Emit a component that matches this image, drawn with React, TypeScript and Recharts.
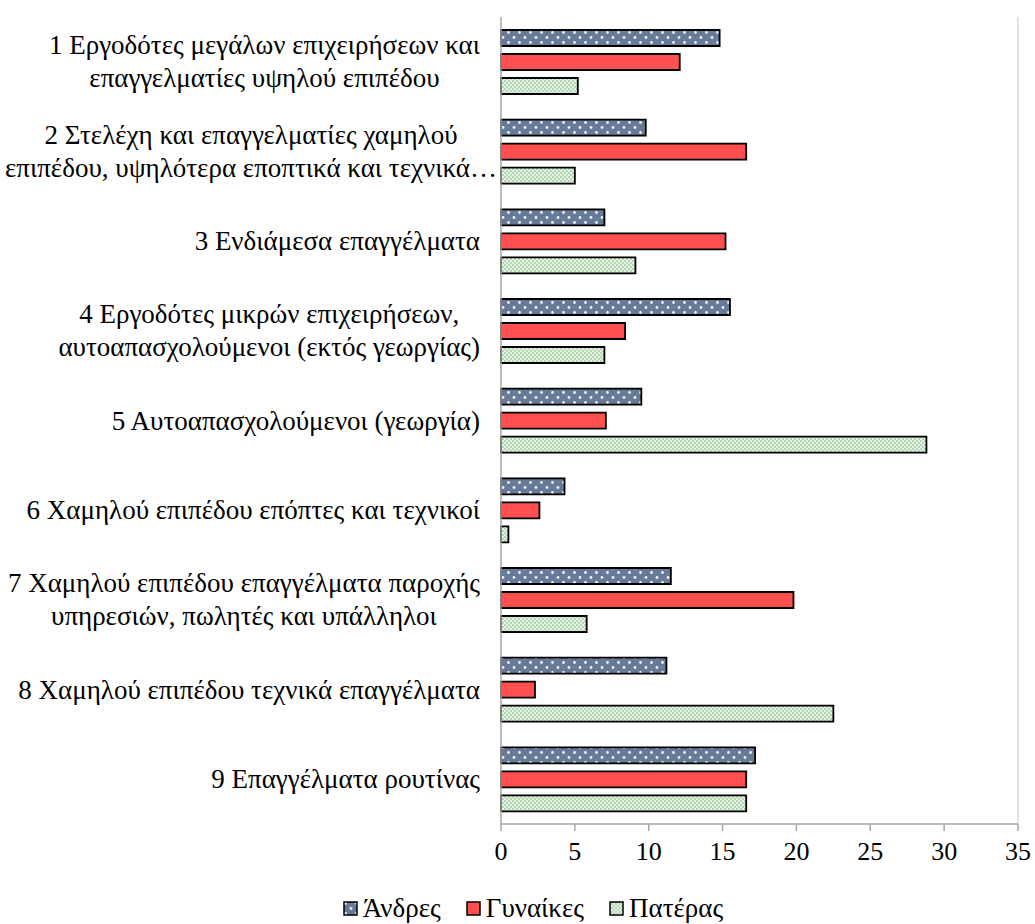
import React from "react";
import { BarChart, Bar, XAxis, YAxis, Legend, ReferenceLine } from "recharts";

const categories: string[][] = [
  ["1 Εργοδότες μεγάλων επιχειρήσεων και", "επαγγελματίες υψηλού επιπέδου"],
  ["2 Στελέχη και επαγγελματίες χαμηλού", "επιπέδου, υψηλότερα εποπτικά και τεχνικά…"],
  ["3 Ενδιάμεσα επαγγέλματα"],
  ["4 Εργοδότες μικρών επιχειρήσεων,", "αυτοαπασχολούμενοι (εκτός γεωργίας)"],
  ["5 Αυτοαπασχολούμενοι (γεωργία)"],
  ["6 Χαμηλού επιπέδου επόπτες και τεχνικοί"],
  ["7 Χαμηλού επιπέδου επαγγέλματα παροχής", "υπηρεσιών, πωλητές και υπάλληλοι"],
  ["8 Χαμηλού επιπέδου τεχνικά επαγγέλματα"],
  ["9 Επαγγέλματα ρουτίνας"],
];

const andres = [14.8, 9.8, 7.0, 15.5, 9.5, 4.3, 11.5, 11.2, 17.2];
const gynaikes = [12.1, 16.6, 15.2, 8.4, 7.1, 2.6, 19.8, 2.3, 16.6];
const pateras = [5.2, 5.0, 9.1, 7.0, 28.8, 0.5, 5.8, 22.5, 16.6];

const seriesNames = ["Άνδρες", "Γυναίκες", "Πατέρας"];
const xTicks = [0, 5, 10, 15, 20, 25, 30, 35];

const data = categories.map((c, i) => ({
  cat: String(i),
  andres: andres[i],
  gynaikes: gynaikes[i],
  pateras: pateras[i],
}));

const FONT = '"Liberation Serif", "Times New Roman", Tinos';
const FS = 27;
const AXFS = 26;

let ctx: CanvasRenderingContext2D | null = null;
function measure(t: string): number {
  if (!ctx) {
    const c = document.createElement("canvas");
    ctx = c.getContext("2d");
  }
  if (!ctx) return t.length * 12;
  ctx.font = `${FS}px ${FONT}`;
  return ctx.measureText(t).width;
}

const RIGHT = 480;
const LINE_H = 33;

function CatTick(props: any) {
  const { y, payload } = props;
  const lines = categories[Number(payload.value)] || [];
  if (lines.length === 1) {
    return (
      <text x={RIGHT} y={y} textAnchor="end" dominantBaseline="central" style={{ fontFamily: FONT, fontSize: FS }} fill="#000">
        {lines[0]}
      </text>
    );
  }
  const maxW = Math.max(...lines.map(measure));
  const cx = Math.max(RIGHT - maxW / 2, maxW / 2 + 5);
  const start = y - ((lines.length - 1) * LINE_H) / 2;
  return (
    <g>
      {lines.map((l, i) => (
        <text key={i} x={cx} y={start + i * LINE_H} textAnchor="middle" dominantBaseline="central" style={{ fontFamily: FONT, fontSize: FS }} fill="#000">
          {l}
        </text>
      ))}
    </g>
  );
}

function XTick(props: any) {
  const { x, y, payload } = props;
  return (
    <text x={x} y={y} textAnchor="middle" dy="0.71em" style={{ fontFamily: FONT, fontSize: AXFS }} fill="#000">
      {payload.value}
    </text>
  );
}

const fills = ["url(#patDots)", "#ff4f4f", "url(#patCheck)"];

function LegendContent() {
  return (
    <div style={{ display: "flex", justifyContent: "center", alignItems: "center", height: 32, paddingLeft: 48, fontFamily: FONT, fontSize: FS, color: "#000" }}>
      {seriesNames.map((n, i) => (
        <div key={n} style={{ display: "flex", alignItems: "center", marginRight: i < 2 ? 25 : 0 }}>
          <svg width={15} height={15} style={{ marginRight: 5 }}>
            <rect x={1} y={1} width={13} height={13} fill={fills[i]} stroke="#000" strokeWidth={1.5} />
          </svg>
          <span>{n}</span>
        </div>
      ))}
    </div>
  );
}

export default function App() {
  return (
    <div style={{ position: "fixed", left: 0, top: 0, width: 1035, height: 924, background: "#fff", fontFamily: FONT }}>
      <svg width={0} height={0} style={{ position: "absolute" }}>
        <defs>
          <pattern id="patDots" patternUnits="userSpaceOnUse" width={11} height={10}>
            <rect width={11} height={10} fill="#677a98" />
            <circle cx={2.5} cy={2.5} r={1.4} fill="#eef1f6" />
            <circle cx={8} cy={7.5} r={1.4} fill="#eef1f6" />
          </pattern>
          <pattern id="patCheck" patternUnits="userSpaceOnUse" width={4} height={4}>
            <rect width={4} height={4} fill="#e4f1e4" />
            <rect x={0} y={0} width={2} height={2} fill="#b3d6b3" />
            <rect x={2} y={2} width={2} height={2} fill="#b3d6b3" />
          </pattern>
        </defs>
      </svg>
      <BarChart
        width={1035}
        height={924}
        data={data}
        layout="vertical"
        margin={{ top: 17, right: 17, left: 0, bottom: 0 }}
        barCategoryGap={13}
        barGap={8}
      >
        <XAxis
          type="number"
          domain={[0, 35]}
          ticks={xTicks}
          interval={0}
          height={68}
          axisLine={{ stroke: "#a6a6a6", strokeWidth: 1.5 }}
          tickLine={{ stroke: "#a6a6a6", strokeWidth: 1.5 }}
          tickSize={7}
          tickMargin={11}
          tick={<XTick />}
        />
        <YAxis
          type="category"
          dataKey="cat"
          width={501}
          axisLine={{ stroke: "#a6a6a6", strokeWidth: 1.5 }}
          tickLine={false}
          tick={<CatTick />}
          interval={0}
        />
        <ReferenceLine x={35} stroke="#d9d9d9" strokeWidth={1.5} />
        <Bar dataKey="andres" name={seriesNames[0]} fill={fills[0]} stroke="#000" strokeWidth={1.8} barSize={16} isAnimationActive={false} />
        <Bar dataKey="gynaikes" name={seriesNames[1]} fill={fills[1]} stroke="#000" strokeWidth={1.8} barSize={16} isAnimationActive={false} />
        <Bar dataKey="pateras" name={seriesNames[2]} fill={fills[2]} stroke="#000" strokeWidth={1.8} barSize={16} isAnimationActive={false} />
        <Legend verticalAlign="bottom" content={<LegendContent />} />
      </BarChart>
    </div>
  );
}
